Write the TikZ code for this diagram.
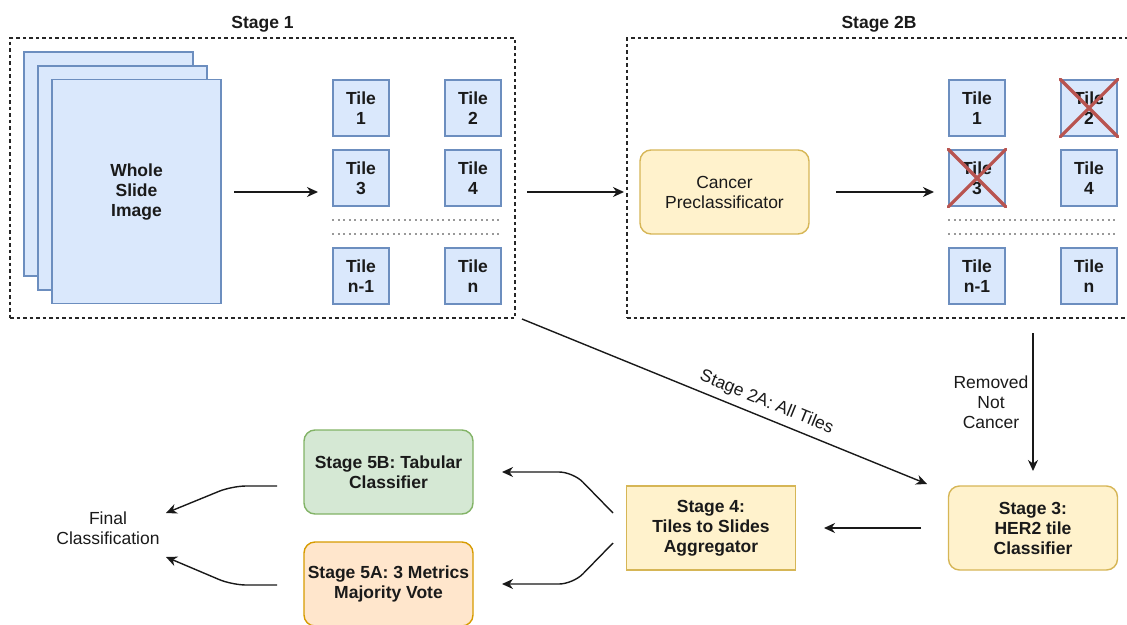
\documentclass[tikz,border=0pt]{standalone}
\usepackage{fontspec}
\setmainfont{Liberation Sans}
\usetikzlibrary{arrows.meta}
\definecolor{bluefill}{HTML}{DAE8FC}
\definecolor{blueline}{HTML}{6C8EBF}
\definecolor{yelfill}{HTML}{FFF2CC}
\definecolor{yelline}{HTML}{D6B656}
\definecolor{grnfill}{HTML}{D5E8D4}
\definecolor{grnline}{HTML}{82B366}
\definecolor{orgfill}{HTML}{FFE6CC}
\definecolor{orgline}{HTML}{D79B00}
\definecolor{xred}{HTML}{B85450}
\definecolor{txtcol}{HTML}{1A1A1A}
\begin{document}
\begin{tikzpicture}[x=1pt,y=-1pt,
  txt/.style={font=\fontsize{17.5}{20}\selectfont, align=center, inner sep=0pt, text=txtcol},
  btxt/.style={font=\fontsize{17.5}{20}\selectfont\bfseries, align=center, inner sep=0pt, text=txtcol},
  tilebox/.style={draw=blueline, fill=bluefill, line width=1.4pt, minimum width=56, minimum height=56, btxt},
  slidebox/.style={draw=blueline, fill=bluefill, line width=1.4pt, minimum width=169, minimum height=224, inner sep=0pt},
  stagebox/.style={draw=black!85, line width=1.2pt, dash pattern=on 3.5pt off 3pt, inner sep=0pt},
  procbox/.style={line width=1.4pt, minimum width=169, minimum height=84, rounded corners=11pt},
  sep/.style={draw=black!40, line width=1.2pt, dash pattern=on 2pt off 3.5pt},
  arr/.style={draw=black!90, line width=1.4pt, -{Stealth[length=11pt,width=10pt,inset=3.5pt]}},
  xline/.style={draw=xred, line width=3.2pt, line cap=round}
]
\useasboundingbox (0,0) rectangle (1127,624);
\clip (0,0) rectangle (1127,624);

% Stage containers
\node[stagebox, minimum width=505, minimum height=280] (s1) at (262.5,178) {};
\node[stagebox, minimum width=504, minimum height=280] (s2b) at (879,178) {};
\node[btxt] (s1lab) at (262.5,24) {Stage 1};
\node[btxt] (s2blab) at (879,24) {Stage 2B};

% Whole slide stack
\node[slidebox] (sl1) at (108.5,164) {};
\node[slidebox] (sl2) at (122.5,178) {};
\node[slidebox] (sl3) at (136.5,191.5) {};
\node[btxt] (wsi) at (136.5,192) {Whole\\Slide\\Image};

% Stage 1 tiles
\node[tilebox] (a1) at (361,108) {Tile\\1};
\node[tilebox] (a2) at (473,108) {Tile\\2};
\node[tilebox] (a3) at (361,178) {Tile\\3};
\node[tilebox] (a4) at (473,178) {Tile\\4};
\node[tilebox] (an1) at (361,276) {Tile\\n-1};
\node[tilebox] (an) at (473,276) {Tile\\n};
\draw[sep] (a3.west |- 0,220) -- (a4.east |- 0,220);
\draw[sep] (a3.west |- 0,234) -- (a4.east |- 0,234);

% Stage 2B
\node[procbox, draw=yelline, fill=yelfill, txt] (pre) at (724.5,192) {Cancer\\Preclassificator};
\node[tilebox] (b1) at (977,108) {Tile\\1};
\node[tilebox] (b2) at (1089,108) {Tile\\2};
\node[tilebox] (b3) at (977,178) {Tile\\3};
\node[tilebox] (b4) at (1089,178) {Tile\\4};
\node[tilebox] (bn1) at (977,276) {Tile\\n-1};
\node[tilebox] (bn) at (1089,276) {Tile\\n};
\draw[sep] (b3.west |- 0,220) -- (b4.east |- 0,220);
\draw[sep] (b3.west |- 0,234) -- (b4.east |- 0,234);
\draw[xline] (b2.north west) -- (b2.south east) (b2.north east) -- (b2.south west);
\draw[xline] (b3.north west) -- (b3.south east) (b3.north east) -- (b3.south west);

% Lower row
\node[procbox, draw=yelline, fill=yelfill, btxt] (st3) at (1033,528) {Stage 3:\\HER2 tile\\Classifier};
\node[procbox, draw=yelline, fill=yelfill, btxt, rounded corners=0pt] (st4) at (711,528) {Stage 4:\\Tiles to Slides\\Aggregator};
\node[procbox, draw=grnline, fill=grnfill, btxt] (st5b) at (388.5,472) {Stage 5B: Tabular\\Classifier};
\node[procbox, draw=orgline, fill=orgfill, btxt] (st5a) at (388.5,584) {Stage 5A: 3 Metrics\\Majority Vote};
\node[txt] (final) at (108,528) {Final\\Classification};
\node[txt] (rem) at (991,402) {Removed\\Not\\Cancer};

% Connector points
\coordinate (c1s) at (234,192);
\coordinate (c1e) at (318,192);
\coordinate (c2s) at (527,192);
\coordinate (c2e) at (624,192);
\coordinate (c3s) at (836,192);
\coordinate (c3e) at (934,192);
\coordinate (c4s) at (1033,333);
\coordinate (c4e) at (1033,471);
\coordinate (c5s) at (522,319);
\coordinate (c5e) at (927,484);
\coordinate (c6s) at (921,528);
\coordinate (c6e) at (824,528);
\coordinate (c7s) at (613,513);
\coordinate (c7e) at (502,472);
\coordinate (c8s) at (613,543);
\coordinate (c8e) at (502,584);
\coordinate (c9s) at (277,486);
\coordinate (c9e) at (166,513);
\coordinate (c10s) at (277,585);
\coordinate (c10e) at (166,557);

\draw[arr] (c1s) -- (c1e);
\draw[arr] (c2s) -- (c2e);
\draw[arr] (c3s) -- (c3e);
\draw[arr] (c4s) -- (c4e);
\draw[arr] (c5s) -- node[pos=0.59, sloped, above=6pt, txt] {Stage 2A: All Tiles} (c5e);
\draw[arr] (c6s) -- (c6e);
\draw[arr, rounded corners=14pt] (c7s) -- (573,472) -- (c7e);
\draw[arr, rounded corners=14pt] (c8s) -- (573,584) -- (c8e);
\draw[arr, rounded corners=14pt] (c9s) -- (232,486) -- (c9e);
\draw[arr, rounded corners=14pt] (c10s) -- (232,585) -- (c10e);
\end{tikzpicture}
\end{document}
